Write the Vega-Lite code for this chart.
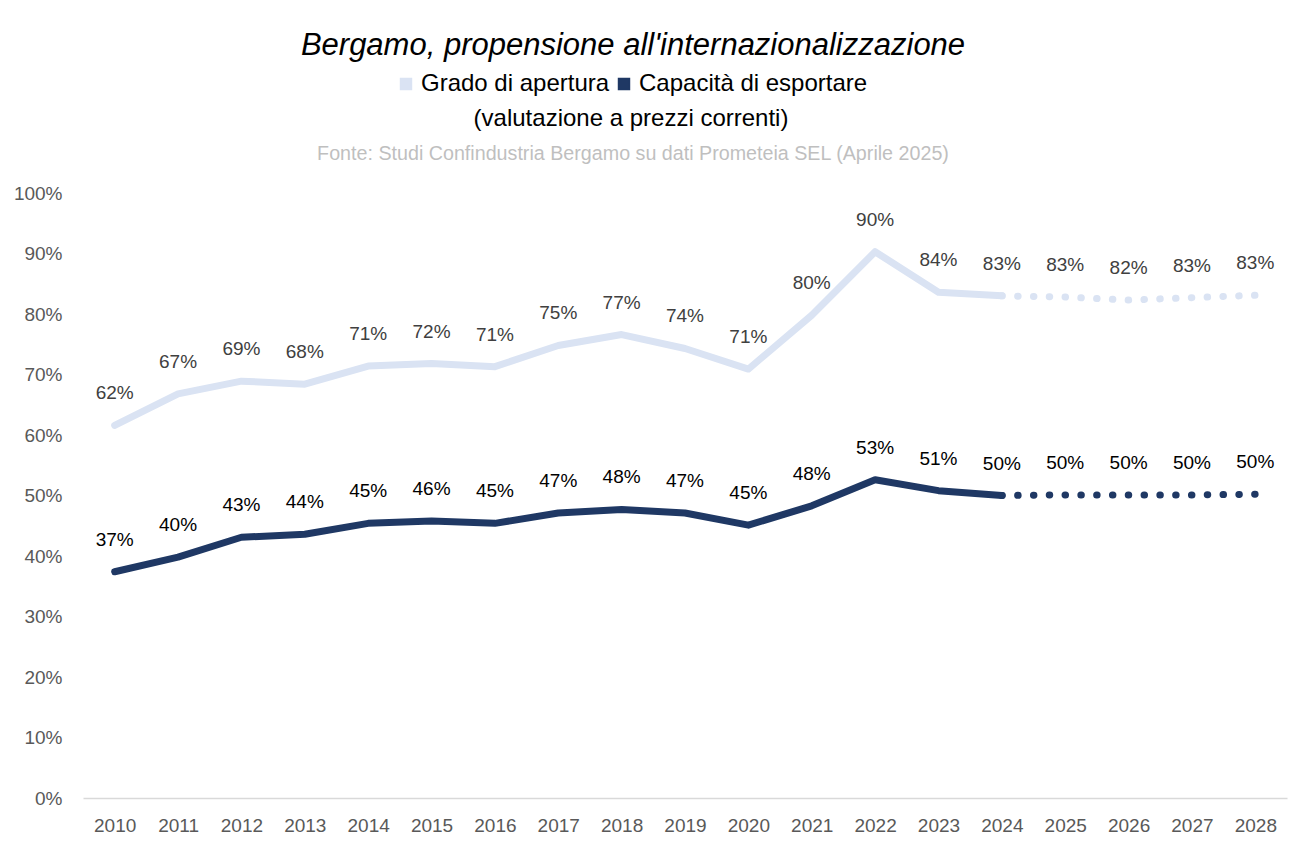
{
  "$schema": "https://vega.github.io/schema/vega-lite/v6.json",
  "width": 1204,
  "height": 605,
  "autosize": {"type": "none"},
  "padding": {"left": 83, "top": 193, "right": 6, "bottom": 45},
  "background": "white",
  "config": {"view": {"stroke": null}, "font": "Liberation Sans, Arial, sans-serif"},
  "title": {
    "text": "Bergamo, propensione all'internazionalizzazione",
    "subtitle": "Fonte: Studi Confindustria Bergamo su dati Prometeia SEL (Aprile 2025)",
    "anchor": "middle",
    "dx": -52,
    "dy": 125,
    "offset": 32,
    "fontSize": 31,
    "fontStyle": "italic",
    "fontWeight": "normal",
    "color": "#000000",
    "subtitleFontSize": 19.7,
    "subtitleColor": "#bfbfbf",
    "subtitlePadding": 82
  },
  "data": {
    "values": [
      {"anno": 2010, "serie": "Grado di apertura", "valore": 0.616},
      {"anno": 2011, "serie": "Grado di apertura", "valore": 0.668},
      {"anno": 2012, "serie": "Grado di apertura", "valore": 0.689},
      {"anno": 2013, "serie": "Grado di apertura", "valore": 0.684},
      {"anno": 2014, "serie": "Grado di apertura", "valore": 0.714},
      {"anno": 2015, "serie": "Grado di apertura", "valore": 0.718},
      {"anno": 2016, "serie": "Grado di apertura", "valore": 0.713},
      {"anno": 2017, "serie": "Grado di apertura", "valore": 0.748},
      {"anno": 2018, "serie": "Grado di apertura", "valore": 0.766},
      {"anno": 2019, "serie": "Grado di apertura", "valore": 0.743},
      {"anno": 2020, "serie": "Grado di apertura", "valore": 0.709},
      {"anno": 2021, "serie": "Grado di apertura", "valore": 0.798},
      {"anno": 2022, "serie": "Grado di apertura", "valore": 0.903},
      {"anno": 2023, "serie": "Grado di apertura", "valore": 0.836},
      {"anno": 2024, "serie": "Grado di apertura", "valore": 0.830},
      {"anno": 2025, "serie": "Grado di apertura", "valore": 0.828},
      {"anno": 2026, "serie": "Grado di apertura", "valore": 0.823},
      {"anno": 2027, "serie": "Grado di apertura", "valore": 0.827},
      {"anno": 2028, "serie": "Grado di apertura", "valore": 0.831},
      {"anno": 2010, "serie": "Capacità di esportare", "valore": 0.374},
      {"anno": 2011, "serie": "Capacità di esportare", "valore": 0.398},
      {"anno": 2012, "serie": "Capacità di esportare", "valore": 0.431},
      {"anno": 2013, "serie": "Capacità di esportare", "valore": 0.436},
      {"anno": 2014, "serie": "Capacità di esportare", "valore": 0.454},
      {"anno": 2015, "serie": "Capacità di esportare", "valore": 0.458},
      {"anno": 2016, "serie": "Capacità di esportare", "valore": 0.454},
      {"anno": 2017, "serie": "Capacità di esportare", "valore": 0.471},
      {"anno": 2018, "serie": "Capacità di esportare", "valore": 0.477},
      {"anno": 2019, "serie": "Capacità di esportare", "valore": 0.471},
      {"anno": 2020, "serie": "Capacità di esportare", "valore": 0.451},
      {"anno": 2021, "serie": "Capacità di esportare", "valore": 0.483},
      {"anno": 2022, "serie": "Capacità di esportare", "valore": 0.526},
      {"anno": 2023, "serie": "Capacità di esportare", "valore": 0.508},
      {"anno": 2024, "serie": "Capacità di esportare", "valore": 0.500},
      {"anno": 2025, "serie": "Capacità di esportare", "valore": 0.501},
      {"anno": 2026, "serie": "Capacità di esportare", "valore": 0.501},
      {"anno": 2027, "serie": "Capacità di esportare", "valore": 0.501},
      {"anno": 2028, "serie": "Capacità di esportare", "valore": 0.502}
    ]
  },
  "encoding": {
    "x": {
      "field": "anno",
      "type": "ordinal",
      "scale": {"type": "point", "padding": 0.5},
      "axis": {
        "title": null,
        "labelAngle": 0,
        "labelFontSize": 19,
        "labelColor": "#595959",
        "labelPadding": 18,
        "ticks": false,
        "domainColor": "#d9d9d9",
        "domainWidth": 1.5,
        "grid": false
      }
    },
    "y": {
      "field": "valore",
      "type": "quantitative",
      "scale": {"domain": [0, 1], "nice": false},
      "axis": {
        "title": null,
        "values": [0, 0.1, 0.2, 0.3, 0.4, 0.5, 0.6, 0.7, 0.8, 0.9, 1],
        "format": ".0%",
        "labelFontSize": 19,
        "labelColor": "#595959",
        "labelPadding": 21,
        "domain": false,
        "ticks": false,
        "grid": false
      }
    },
    "color": {
      "field": "serie",
      "type": "nominal",
      "scale": {
        "domain": ["Grado di apertura", "Capacità di esportare"],
        "range": ["#dae3f3", "#1f3864"]
      },
      "legend": {
        "orient": "none",
        "legendX": 311,
        "legendY": -121,
        "direction": "horizontal",
        "title": "(valutazione a prezzi correnti)",
        "titleOrient": "bottom",
        "titleAnchor": "middle",
        "titleFontSize": 24,
        "titleFontWeight": "normal",
        "titleColor": "#000000",
        "titlePadding": 11,
        "titleLimit": 0,
        "labelFontSize": 24,
        "labelColor": "#000000",
        "labelLimit": 0,
        "labelOffset": 3,
        "columnPadding": 2,
        "symbolType": "square",
        "symbolSize": 120,
        "symbolOpacity": 1,
        "encode": {
          "symbols": {
            "update": {
              "fill": {"scale": "color", "field": "value"},
              "stroke": {"value": "transparent"}
            }
          }
        }
      }
    }
  },
  "layer": [
    {
      "transform": [{"filter": "datum.anno <= 2024"}],
      "mark": {"type": "line", "strokeWidth": 7, "strokeCap": "round", "strokeJoin": "round"}
    },
    {
      "transform": [{"filter": "datum.anno >= 2024"}],
      "mark": {"type": "line", "strokeWidth": 7, "strokeCap": "round", "strokeDash": [0.5, 15.3]}
    },
    {
      "mark": {"type": "text", "dy": -32, "fontSize": 19, "baseline": "middle"},
      "encoding": {
        "text": {"field": "valore", "type": "quantitative", "format": ".0%"},
        "color": {
          "condition": {"test": "datum.serie === 'Grado di apertura'", "value": "#404040"},
          "value": "#000000"
        }
      }
    }
  ]
}
